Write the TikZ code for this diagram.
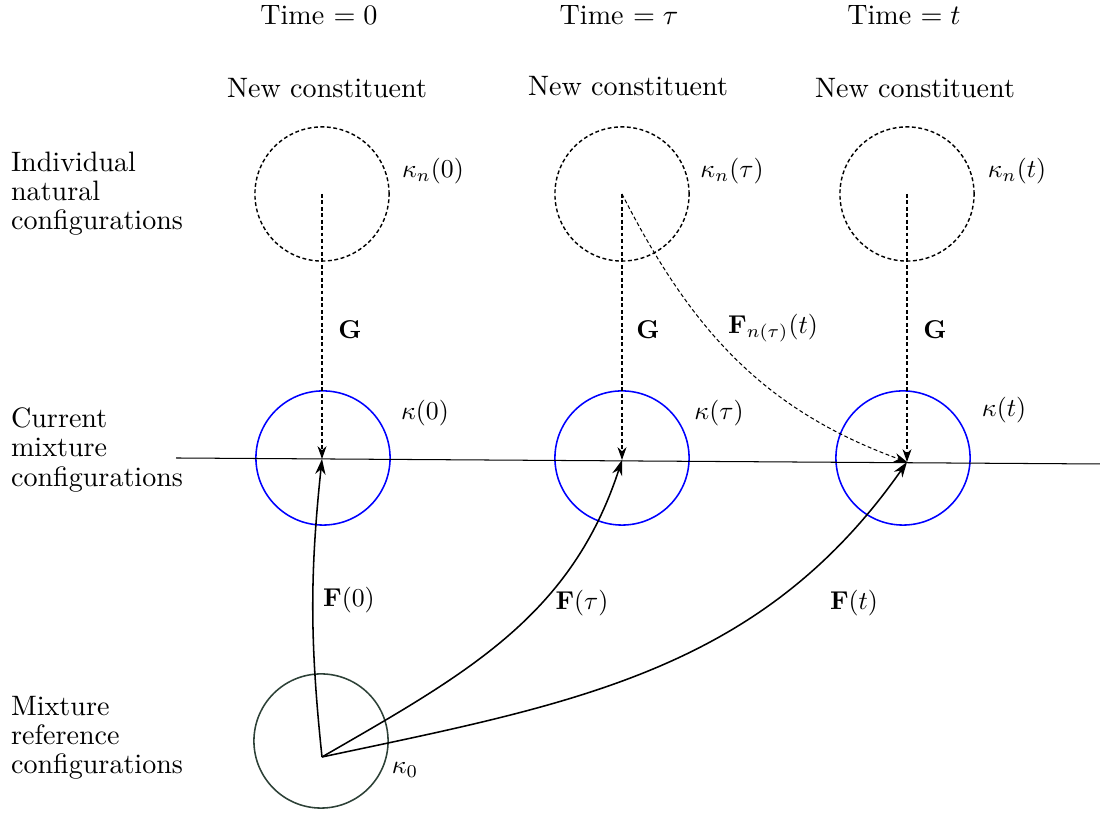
\documentclass[tikz,border=0pt]{standalone}
\usepackage{amsmath}
\usetikzlibrary{arrows.meta}

\definecolor{refgreen}{RGB}{45,65,55}

\begin{document}
\begin{tikzpicture}[x=0.013636cm,y=0.013636cm,
  natural/.style={circle,draw,line width=0.55pt,dash pattern=on 1.5pt off 1pt,minimum size=1.83cm,inner sep=0pt},
  current/.style={circle,draw=blue,line width=0.6pt,minimum size=1.83cm,inner sep=0pt},
  reference/.style={circle,draw=refgreen,line width=0.6pt,minimum size=1.83cm,inner sep=0pt},
  mapG/.style={-{Stealth[length=5pt,width=3.5pt]},dash pattern=on 1.5pt off 1pt},
  mapF/.style={-{Stealth[length=6pt,width=4pt]},semithick},
  words/.style={font=\fontsize{10.9}{11.3}\selectfont},
  rowlabel/.style={words,anchor=west,align=left}]
  \useasboundingbox (0,0) rectangle (1100,819);
  % circles
  \node[natural] (kn0) at (322,625) {};
  \node[natural] (kntau) at (622,625) {};
  \node[natural] (knt) at (907,625) {};
  \node[current] (k0) at (323,361) {};
  \node[current] (ktau) at (622,361) {};
  \node[current] (kt) at (903,361) {};
  \node[reference] (kref) at (321,78) {};
  \coordinate (o) at (322,62);
  % the line
  \coordinate (lineL) at (176,361);
  \coordinate (lineR) at (1100,355);
  \draw (lineL) -- (lineR);
  % G maps
  \draw[mapG] (kn0.center) -- (322,360);
  \draw[mapG] (kntau.center) -- (622,359);
  \draw[mapG] (knt.center) -- (907,357);
  \draw[mapG] (kntau.center) to[out=-63,in=160] (907,357);
  % F maps
  \draw[mapF] (o) to[bend left=6] (322,360);
  \draw[mapF] (o) to[out=30,in=-108] (622,359);
  \draw[mapF] (o) to[out=12,in=-125] (907,357);
  % labels
  \node[words] (time0) at (319,804) {Time $=0$};
  \node[words] (timetau) at (619,804) {Time $=\tau$};
  \node[words] (timet) at (904,804) {Time $=t$};
  \node[words] (new0) at (327,731) {New constituent};
  \node[words] (newtau) at (628,733) {New constituent};
  \node[words] (newt) at (915,731) {New constituent};
  \node[rowlabel] (rownat) at (2,625) {Individual\\natural\\configurations};
  \node[rowlabel] (rowcur) at (2,369) {Current\\mixture\\configurations};
  \node[rowlabel] (rowref) at (2,81) {Mixture\\reference\\configurations};
  \node (lkn0) at (433,648) {$\kappa_n(0)$};
  \node (lkntau) at (732,648) {$\kappa_n(\tau)$};
  \node (lknt) at (1017,648) {$\kappa_n(t)$};
  \node (lG0) at (350,489) {$\mathbf{G}$};
  \node (lGtau) at (648,489) {$\mathbf{G}$};
  \node (lGt) at (935,489) {$\mathbf{G}$};
  \node (lFn) at (773,491) {$\mathbf{F}_{n(\tau)}(t)$};
  \node (lk0) at (425,406) {$\kappa(0)$};
  \node (lktau) at (719,406) {$\kappa(\tau)$};
  \node (lkt) at (1004,409) {$\kappa(t)$};
  \node (lF0) at (349,219) {$\mathbf{F}(0)$};
  \node (lFtau) at (582,216) {$\mathbf{F}(\tau)$};
  \node (lFt) at (854,216) {$\mathbf{F}(t)$};
  \node (lkref) at (405,49) {$\kappa_0$};
\end{tikzpicture}
\end{document}
